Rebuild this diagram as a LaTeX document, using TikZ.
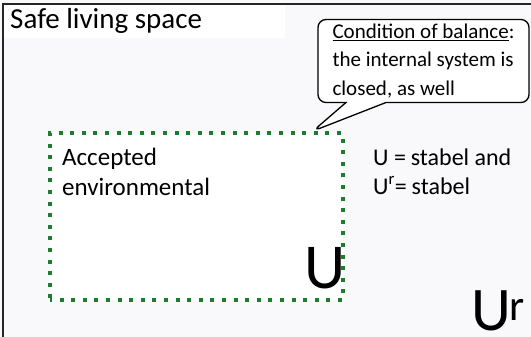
\documentclass[tikz,border=0pt]{standalone}
\usepackage{fontspec}
\setmainfont{Carlito}
\usepackage{tikz}
\usetikzlibrary{shapes, shapes.callouts, positioning, backgrounds}

\definecolor{pagebg}{RGB}{249,249,252}
\definecolor{okgreen}{RGB}{28,124,48}

\begin{document}
\begin{tikzpicture}[x=1pt, y=-1pt,
        txt/.style={inner sep=0pt, anchor=base west, align=left},
        bubble/.style={rectangle callout, draw=black, fill=white, line width=1.3pt, rounded corners=8pt, callout pointer width=40pt, minimum width=211pt, minimum height=83pt, inner xsep=4pt, align=left, font=\fontsize{21}{28.5}\selectfont},
        envbox/.style={rectangle, draw=okgreen, line width=4pt, dash pattern=on 4pt off 7.6pt, dash phase=2pt, fill=white, minimum width=293pt, minimum height=167pt}
    ]
        \useasboundingbox (0,0) rectangle (531,337);
        \fill[pagebg] (0,0) rectangle (531,337);
        \fill[white] (4,5) rectangle (285,38);
        \draw[line width=1.2pt, black!85] (531,4) -- (3,4) -- (3,337);

        \node[txt, font=\fontsize{29}{30}\selectfont] (title) at (10,29) {Safe living space};

        \node[envbox] (env) at (196.5,216.5) {};
        % multi-line nodes sit on the baseline of their last line
        \node[txt, font=\fontsize{25}{30}\selectfont] (accepted) at (62,196) {Accepted\\environmental};
        \node[txt, font=\fontsize{64}{64}\selectfont] (u) at (304,288) {U};

        \coordinate (tip) at (313,131);
        \node[bubble, callout absolute pointer=(tip)] (balance) at (423.5,61) {\underline{Condition of balance}:\\the internal system is\\closed, as well};

        \node[txt, font=\fontsize{24}{29}\selectfont] (stable) at (373,194) {U =\hspace{0.2em}stabel and\\U\textsuperscript{r}=\hspace{0.2em}stabel};
        \node[txt, font=\fontsize{62}{62}\selectfont] (ur) at (471,330) {U\kern-1pt\textsuperscript{r}};
    \end{tikzpicture}
\end{document}
